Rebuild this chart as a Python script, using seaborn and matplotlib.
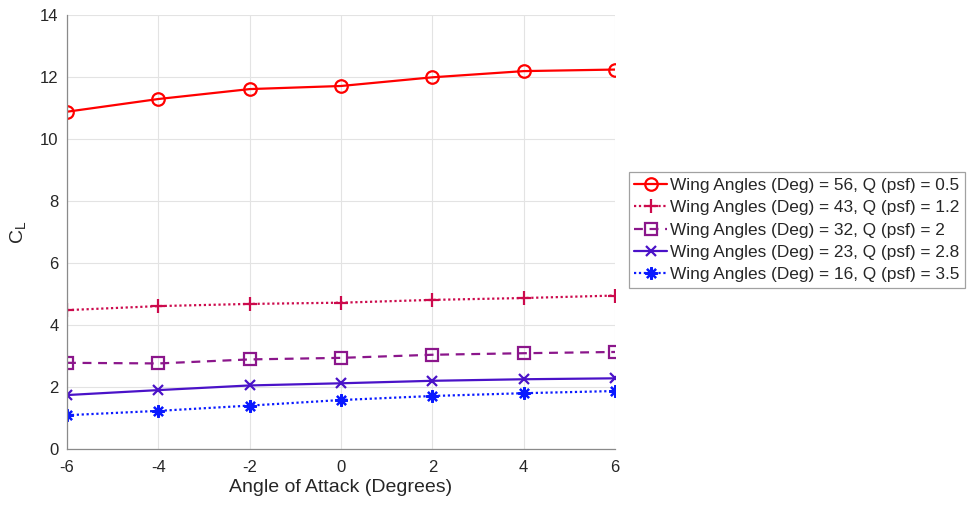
import numpy as np
import pandas as pd
import matplotlib
matplotlib.use('Agg')
import matplotlib.pyplot as plt
import seaborn as sns

# data
aoa = [-6, -4, -2, 0, 2, 4, 6]
cl_56 = [10.88, 11.29, 11.61, 11.71, 11.99, 12.19, 12.24]
cl_43 = [4.48, 4.61, 4.68, 4.72, 4.81, 4.87, 4.95]
cl_32 = [2.78, 2.76, 2.89, 2.94, 3.04, 3.09, 3.13]
cl_23 = [1.74, 1.90, 2.05, 2.12, 2.20, 2.25, 2.28]
cl_16 = [1.09, 1.23, 1.40, 1.58, 1.71, 1.80, 1.87]

labels = ['Wing Angles (Deg) = 56, Q (psf) = 0.5',
          'Wing Angles (Deg) = 43, Q (psf) = 1.2',
          'Wing Angles (Deg) = 32, Q (psf) = 2',
          'Wing Angles (Deg) = 23, Q (psf) = 2.8',
          'Wing Angles (Deg) = 16, Q (psf) = 3.5']
series = [cl_56, cl_43, cl_32, cl_23, cl_16]

colors = ['#ff0000', '#cc0a4c', '#8b168b', '#4a12c8', '#0a1aff']
markers = ['o', '+', 's', 'x', (8, 2, 0)]
styles = ['-', (0, (1, 1.2)), (0, (4, 3)), '-', (0, (1, 1.2))]
msizes = [9, 10, 8, 7, 9]

sns.set_style('white')
plt.rcParams['font.family'] = ['Liberation Sans', 'DejaVu Sans']
plt.rcParams['axes.unicode_minus'] = False

fig = plt.figure(figsize=(9.68, 5.08), dpi=100)
ax = fig.add_axes([67/968, 1-449/508, (615-67)/968, (449-15)/508])

for lab, vals, c, m, ls, ms in zip(labels, series, colors, markers, styles, msizes):
    sns.lineplot(x=aoa, y=vals, ax=ax, color=c, marker=m, linestyle=ls,
                 linewidth=1.6, markersize=ms, markerfacecolor='none',
                 markeredgecolor=c, markeredgewidth=1.6, label=lab)

ax.set_xlim(-6, 6)
ax.set_ylim(0, 14)
ax.set_xticks(aoa)
ax.set_yticks(range(0, 15, 2))
ax.grid(True, color='#e3e3e3', linewidth=0.8)
ax.tick_params(direction='in', length=4, color='#8a8a8a', labelsize=12,
               labelcolor='#262626')
ax.tick_params(axis='x', pad=8)
ax.tick_params(axis='y', pad=6)
for side in ['top', 'right']:
    ax.spines[side].set_visible(False)
for side in ['left', 'bottom']:
    ax.spines[side].set_color('#8a8a8a')
    ax.spines[side].set_linewidth(0.9)

ax.set_xlabel('Angle of Attack (Degrees)', fontsize=14, color='#262626', labelpad=3)
ax.set_ylabel(r'$\mathregular{C_L}$', fontsize=14, color='#262626', labelpad=9)

ax.get_legend().remove()
h, l = ax.get_legend_handles_labels()
leg = fig.legend(h, l, loc='center left', bbox_to_anchor=(629/968, 1-230/508),
                 fontsize=12.4, frameon=True, fancybox=False, handlelength=1.9,
                 handletextpad=0.2, borderpad=0.3, labelspacing=0.43,
                 borderaxespad=0)
leg.get_frame().set_edgecolor('#8a8a8a')
leg.get_frame().set_linewidth(0.9)
for t in leg.get_texts():
    t.set_color('#262626')

fig.savefig('out.png', dpi=100)
